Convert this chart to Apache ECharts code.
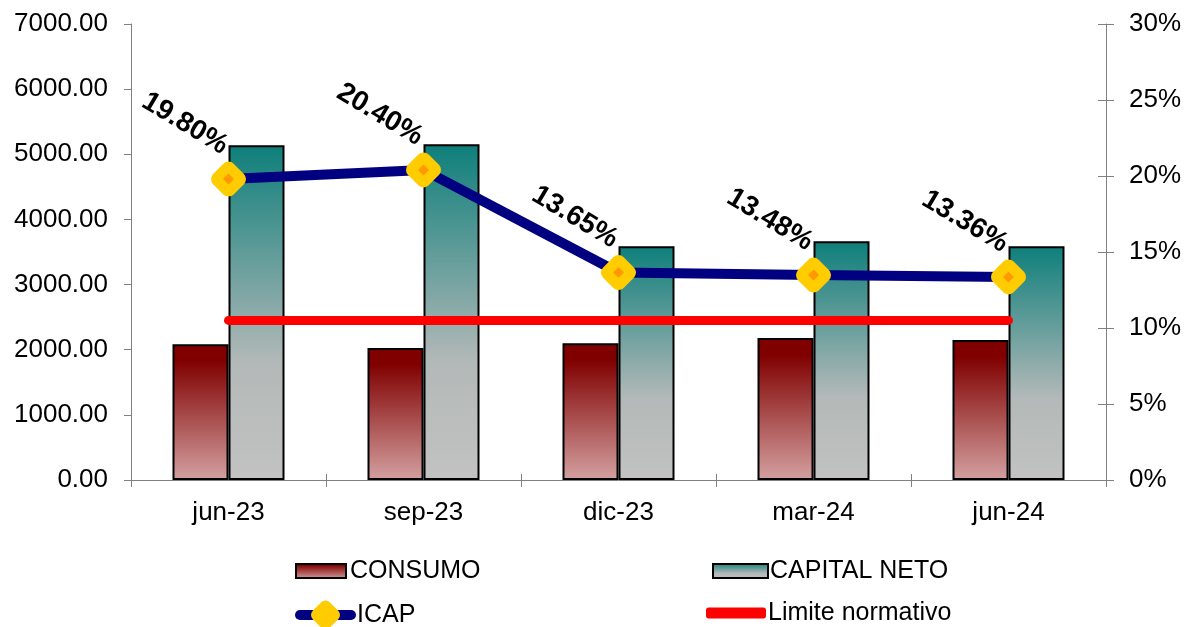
<!DOCTYPE html>
<html><head><meta charset="utf-8">
<script src="https://cdn.jsdelivr.net/npm/echarts@6/dist/echarts.min.js"></script>
<style>html,body{margin:0;padding:0;background:#fff}#c{width:1190px;height:627px}</style>
</head><body><div id="c"></div>
<script>
const categories = ['jun-23','sep-23','dic-23','mar-24','jun-24'];
const consumo = [2085, 2025, 2100, 2180, 2150];
const capitalNeto = [5140, 5155, 3590, 3665, 3590];
const icap = [19.80, 20.40, 13.65, 13.48, 13.36];
const limite = [10.5, 10.5, 10.5, 10.5, 10.5];
const leftTicks = [0, 7000, 1000];
const rightTicks = [0, 30, 5];

const FONT = '"Liberation Sans", Arial, sans-serif';
const chart = echarts.init(document.getElementById('c'));
const gradRed = new echarts.graphic.LinearGradient(0,0,0,1,[{offset:0,color:'#800000'},{offset:0.12,color:'#800000'},{offset:1,color:'#D4A0A0'}]);
const gradTeal = new echarts.graphic.LinearGradient(0,0,0,1,[{offset:0,color:'#0E7F7B'},{offset:0.65,color:'#B3B9B8'},{offset:1,color:'#C2C2C2'}]);
function leg(name, left, top, w, h, padLeft, extra) {
  return Object.assign({data:[name], left:left, top:top, padding:0, itemWidth:w, itemHeight:h, itemGap:0,
    textStyle:{fontFamily: FONT, fontSize: 25, color: '#000', lineHeight: 26, padding: [0,0,0,padLeft]},
    selectedMode:false}, extra || {});
}
chart.setOption({
  animation: false,
  backgroundColor: '#fff',
  grid: {left: 131, right: 84, top: 24, bottom: 147},
  legend: [
    leg('CONSUMO', 295, 558, 50, 14, -1, {icon: 'rect', itemStyle: {borderWidth: 2, borderColor: '#000'}}),
    leg('CAPITAL NETO', 712, 558, 55, 14, -3, {icon: 'rect', itemStyle: {borderWidth: 2, borderColor: '#000'}}),
    leg('ICAP', 295, 598, 51, 30, 1, {lineStyle: {width: 10, cap: 'round', color: '#000080'}}),
    leg('Limite normativo', 706, 600, 60, 11, -3, {icon: 'roundRect', itemStyle: {color: '#FF0000'}})
  ],
  xAxis: [{
    type: 'category', data: categories, position: 'bottom',
    axisLine: {lineStyle: {color: '#808080', width: 1}},
    axisTick: {show: true, length: 7, lineStyle: {color: '#808080'}},
    axisLabel: {fontFamily: FONT, fontSize: 26, color: '#000', margin: 20}
  }, {
    type: 'category', data: categories, position: 'bottom',
    axisLine: {show: false},
    axisTick: {show: true, inside: true, length: 6, lineStyle: {color: '#808080'}},
    axisLabel: {show: false}
  }],
  yAxis: [{
    type: 'value', min: leftTicks[0], max: leftTicks[1], interval: leftTicks[2], position: 'left',
    axisLine: {show: true, lineStyle: {color: '#808080'}},
    axisTick: {show: true, length: 7, lineStyle: {color: '#808080'}},
    splitLine: {show: false},
    axisLabel: {fontFamily: FONT, fontSize: 26, color: '#000', margin: 23, formatter: v => v.toFixed(2)}
  }, {
    type: 'value', min: rightTicks[0], max: rightTicks[1], interval: rightTicks[2], position: 'right',
    axisLine: {show: true, lineStyle: {color: '#808080'}},
    axisTick: {show: true, length: 8, lineStyle: {color: '#808080'}},
    splitLine: {show: false},
    axisLabel: {fontFamily: FONT, fontSize: 26, color: '#000', margin: 23, formatter: '{value}%'}
  }, {
    type: 'value', min: rightTicks[0], max: rightTicks[1], interval: rightTicks[2], position: 'right',
    axisLine: {show: false},
    axisTick: {show: true, inside: true, length: 8, lineStyle: {color: '#808080'}},
    splitLine: {show: false}, axisLabel: {show: false}
  }],
  series: [{
    name: 'CONSUMO', type: 'bar', data: consumo, barWidth: 56, barGap: '0%',
    itemStyle: {color: gradRed, borderColor: '#000', borderWidth: 2}
  }, {
    name: 'CAPITAL NETO', type: 'bar', data: capitalNeto, barWidth: 56, barGap: '0%',
    itemStyle: {color: gradTeal, borderColor: '#000', borderWidth: 2}
  }, {
    name: 'Limite normativo', type: 'line', yAxisIndex: 1, data: limite, symbol: 'none', z: 3,
    lineStyle: {color: '#FF0000', width: 9, cap: 'round'}, itemStyle: {color: '#FF0000'}
  }, {
    name: 'ICAP', type: 'line', yAxisIndex: 1, data: icap, z: 4,
    symbol: 'roundRect', symbolSize: 29, symbolRotate: 45, showAllSymbol: true,
    lineStyle: {color: '#000080', width: 10},
    itemStyle: {color: '#FFCC00'}
  }, {
    name: 'ICAP_pt', type: 'scatter', yAxisIndex: 1, data: icap, z: 6,
    symbol: 'diamond', symbolSize: 11, itemStyle: {color: '#FF9900', opacity: 1},
    label: {show: true, position: 'inside', rotate: -31, align: 'center', verticalAlign: 'middle',
      offset: [-66, -25], opacity: 1,
      fontFamily: FONT, fontSize: 28, fontWeight: 'bold', color: '#000', textBorderWidth: 0,
      formatter: p => p.value.toFixed(2) + '%'}
  }]
});
</script></body></html>
